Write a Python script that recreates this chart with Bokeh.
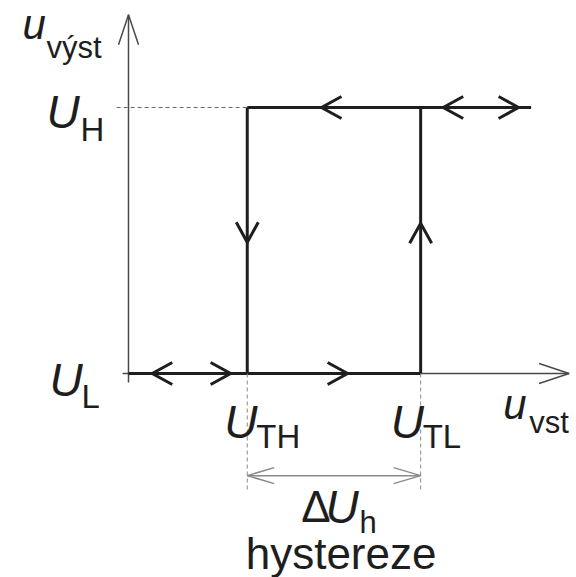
import numpy as np
from bokeh.plotting import figure
from bokeh.models import Range1d
from bokeh.core.properties import value
from bokeh.embed import file_html
from bokeh.resources import INLINE

# ---- diagram values (input / output voltage units) ----
U_L = 0.0          # low output level
U_H = 4.48         # high output level
U_TH = 2.0         # threshold (high -> low)
U_TL = 4.92        # threshold (low -> high)
x_axis_span = [-0.10, 7.42]
y_axis_span = [-0.15, 6.04]
top_line_end = 6.78
dim_y = -1.72      # level of the hysteresis dimension line
dim_tick_end = -1.97

# direction arrows along the loop
arrow_x = [3.25, 5.30, 6.57, 0.40, 1.72, 3.69, U_TH, U_TL]
arrow_y = [U_H, U_H, U_H, U_L, U_L, U_L, 2.21, 2.53]
arrow_dir = ["left", "left", "right", "left", "right", "right", "down", "up"]

# labels
level_labels = ["H", "L"]
threshold_labels = ["TH", "TL"]
x_label_sub = "vst"
y_label_sub = "výst"
hyst_sub = "h"
hyst_text = "hystereze"

W, H = 576, 577
K = 59.38
X0, X1 = -128 / K, (W - 128) / K
Y0, Y1 = (373 - H) / K, 373 / K
kx = W / (X1 - X0)   # px per unit
ky = H / (Y1 - Y0)

p = figure(width=W, height=H, x_range=Range1d(X0, X1), y_range=Range1d(Y0, Y1),
           output_backend="svg", toolbar_location=None, min_border=0,
           x_axis_location=None, y_axis_location=None)
p.grid.visible = False
p.outline_line_color = None
p.background_fill_color = "white"
p.border_fill_color = "white"

DARK = "#1e1e1e"
AX = "#4a4a4a"
GREY = "#8a8a8a"

def chevron(x, y, d, L, Hh):
    lx, hx = L / kx, Hh / kx
    ly, hy = L / ky, Hh / ky
    if d == "left":
        return [x + lx, x, x + lx], [y + hy, y, y - hy]
    if d == "right":
        return [x - lx, x, x - lx], [y + hy, y, y - hy]
    if d == "up":
        return [x - hx, x, x + hx], [y - ly, y, y - ly]
    return [x - hx, x, x + hx], [y + ly, y, y + ly]

# axes
p.line(x_axis_span, [U_L, U_L], line_color=AX, line_width=1.5)
p.line([0, 0], y_axis_span, line_color=AX, line_width=1.5)
xs, ys = chevron(x_axis_span[1], U_L, "right", 30, 10)
p.line(xs, ys, line_color=AX, line_width=1.5)
xs, ys = chevron(0, y_axis_span[1], "up", 30, 10)
p.line(xs, ys, line_color=AX, line_width=1.5)

# dashed guide for U_H
p.line([-0.2, U_TH], [U_H, U_H], line_color="#666666", line_width=1, line_dash="4 3")

# hysteresis loop
p.line([0, U_TL], [U_L, U_L], line_color=DARK, line_width=3)
p.line([U_TH, top_line_end], [U_H, U_H], line_color=DARK, line_width=3)
p.line([U_TH, U_TH], [U_L, U_H], line_color=DARK, line_width=3)
p.line([U_TL, U_TL], [U_L, U_H], line_color=DARK, line_width=3)

cx, cy = [], []
for x, y, d in zip(arrow_x, arrow_y, arrow_dir):
    a, b = chevron(x, y, d, 20, 11)
    cx.append(a); cy.append(b)
p.multi_line(cx, cy, line_color=DARK, line_width=3, line_join="miter")

# hysteresis dimension
p.line([U_TH, U_TH], [U_L, dim_tick_end], line_color=GREY, line_width=1, line_dash="4 3")
p.line([U_TL, U_TL], [U_L, dim_tick_end], line_color=GREY, line_width=1, line_dash="4 3")
p.line([U_TH, U_TL], [dim_y, dim_y], line_color=GREY, line_width=1.5)
for x, d in [(U_TH, "left"), (U_TL, "right")]:
    a, b = chevron(x, dim_y, d, 27, 8)
    p.line(a, b, line_color=GREY, line_width=1.5)

FONT = value("Liberation Sans")
def px_x(v): return v / kx
def px_y(v): return v / ky
DY = px_y(16)   # baseline correction

def up(vals):
    return [v + DY for v in vals]

# label anchor positions derived from the values
U_pos_x = [-1.38, -1.33, U_TH - px_x(23), U_TL - px_x(30), 3.316]
U_pos_y = [U_H - px_y(21), U_L - px_y(22), U_L - px_y(64), U_L - px_y(64), -2.51]
p.text(U_pos_x, up(U_pos_y), text=["U"] * 5, text_font=FONT, text_font_style="italic",
       text_font_size="46px", text_color=DARK, text_baseline="alphabetic", text_align="left")
p.text([-1.785, 6.31], up([5.606, -0.79]), text=["u", "u"], text_font=FONT, text_font_style="italic",
       text_font_size="42px", text_color=DARK, text_baseline="alphabetic", text_align="left")
sub_x = [-0.81, -0.79, U_TH + px_x(9), U_TL + px_x(2)]
sub_y = [U_H - px_y(38), U_L - px_y(39), U_L - px_y(79), U_L - px_y(79)]
p.text(sub_x, up(sub_y), text=level_labels + threshold_labels, text_font=FONT,
       text_font_size="33px", text_color=DARK, text_baseline="alphabetic", text_align="left")
p.text([-1.38, 6.75, 3.89], up([5.22, -1.094, -2.78]), text=[y_label_sub, x_label_sub, hyst_sub],
       text_font=FONT, text_font_size="31px", text_color=DARK,
       text_baseline="alphabetic", text_align="left")
p.text([2.91], up([-2.51]), text=["Δ"], text_font=FONT, text_font_size="44px", text_color=DARK,
       text_baseline="alphabetic", text_align="left")
p.text([3.58], up([-3.30]), text=[hyst_text], text_font=FONT, text_font_size="44px",
       text_color=DARK, text_baseline="alphabetic", text_align="center")

open("out.html", "w").write(file_html(p, INLINE))
